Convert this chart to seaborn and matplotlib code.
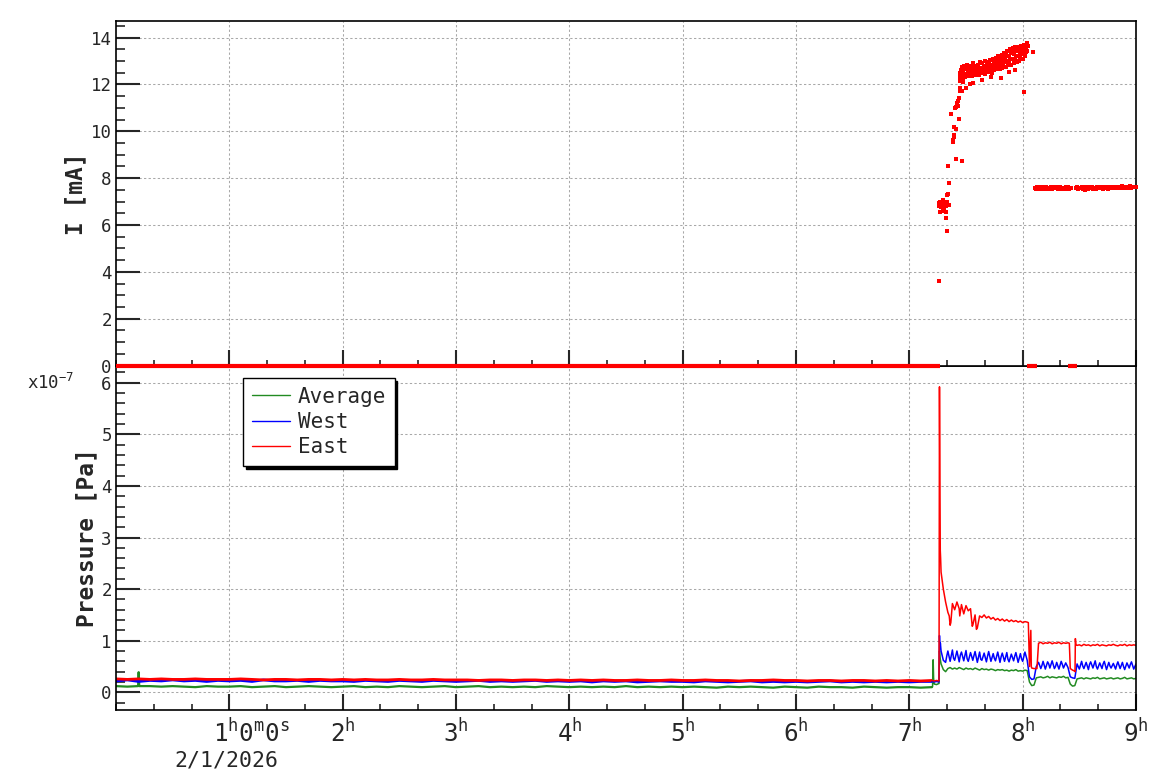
import numpy as np
import pandas as pd
import matplotlib
matplotlib.use("Agg")
import matplotlib.pyplot as plt
import seaborn as sns
from matplotlib.ticker import MultipleLocator, FixedLocator
from matplotlib.lines import Line2D

# ---------------- data ----------------
# Pressure [x1e-7 Pa], quiet period 0.0 h .. 7.2 h (regular sampling)
p_base_span = (0.0, 7.2)
east_base = [0.26, 0.25, 0.26, 0.25, 0.26, 0.25, 0.25, 0.26, 0.25, 0.25,
             0.25, 0.26, 0.25, 0.24, 0.25, 0.25, 0.24, 0.25, 0.25, 0.24,
             0.25, 0.24, 0.25, 0.24, 0.24, 0.25, 0.24, 0.24, 0.25, 0.24,
             0.24, 0.24, 0.23, 0.24, 0.24, 0.23, 0.24, 0.24, 0.23, 0.24,
             0.23, 0.24, 0.23, 0.24, 0.23, 0.23, 0.24, 0.23, 0.23, 0.24,
             0.23, 0.23, 0.24, 0.23, 0.23, 0.22, 0.23, 0.23, 0.24, 0.23,
             0.23, 0.22, 0.23, 0.23, 0.22, 0.23, 0.23, 0.22, 0.23, 0.22,
             0.23, 0.22, 0.23]
west_base = [0.22, 0.24, 0.21, 0.23, 0.22, 0.24, 0.22, 0.23, 0.21, 0.23,
             0.22, 0.23, 0.21, 0.24, 0.22, 0.22, 0.23, 0.21, 0.23, 0.22,
             0.22, 0.21, 0.23, 0.22, 0.21, 0.23, 0.22, 0.21, 0.23, 0.22,
             0.21, 0.22, 0.23, 0.21, 0.22, 0.21, 0.22, 0.23, 0.21, 0.22,
             0.21, 0.22, 0.20, 0.22, 0.21, 0.22, 0.20, 0.21, 0.22, 0.21,
             0.21, 0.20, 0.22, 0.21, 0.20, 0.21, 0.22, 0.20, 0.21, 0.20,
             0.21, 0.20, 0.21, 0.22, 0.20, 0.21, 0.20, 0.21, 0.20, 0.21,
             0.20, 0.21, 0.21]
avg_base = [0.12, 0.11, 0.39, 0.12, 0.11, 0.12, 0.11, 0.10, 0.12, 0.11,
            0.11, 0.12, 0.10, 0.11, 0.12, 0.10, 0.11, 0.12, 0.11, 0.10,
            0.11, 0.12, 0.10, 0.11, 0.10, 0.12, 0.11, 0.10, 0.11, 0.12,
            0.10, 0.11, 0.12, 0.10, 0.11, 0.10, 0.11, 0.10, 0.12, 0.11,
            0.10, 0.11, 0.10, 0.11, 0.10, 0.12, 0.10, 0.11, 0.10, 0.11,
            0.10, 0.11, 0.10, 0.09, 0.11, 0.10, 0.11, 0.10, 0.09, 0.11,
            0.10, 0.09, 0.11, 0.10, 0.10, 0.09, 0.11, 0.10, 0.09, 0.10,
            0.10, 0.09, 0.10]
avg_base_extra = [(0.195, 0.12), (0.205, 0.12)]

# Pressure, active period 7.20 h .. 9.00 h (regular sampling)
p_post_span = (7.20, 9.00)
east_post = [0.23, 0.22, 0.23, 0.22, 2.33, 2.00, 1.75, 1.55, 1.30, 1.72,
             1.60, 1.75, 1.62, 1.70, 1.52, 1.68, 1.58, 1.62, 1.30, 1.50,
             1.25, 1.48, 1.45, 1.50, 1.44, 1.47, 1.42, 1.45, 1.40, 1.43,
             1.39, 1.42, 1.38, 1.41, 1.37, 1.40, 1.37, 1.39, 1.36, 1.38,
             1.35, 1.37, 1.36, 0.50, 0.47, 0.46, 0.46, 0.95, 0.97, 0.94,
             0.96, 0.95, 0.97, 0.94, 0.96, 0.95, 0.97, 0.94, 0.96, 0.95,
             0.96, 0.46, 0.43, 0.41, 0.91, 0.92, 0.90, 0.93, 0.91, 0.92,
             0.90, 0.92, 0.91, 0.93, 0.90, 0.92, 0.91, 0.90, 0.92, 0.91,
             0.93, 0.91, 0.90, 0.92, 0.91, 0.93, 0.90, 0.92, 0.91, 0.92,
             0.91]
east_post_extra = [(7.262, 0.23), (7.266, 5.92), (7.270, 3.82), (7.273, 2.75),
                   (7.276, 2.60), (7.352, 1.48), (7.366, 1.35), (7.445, 1.48),
                   (7.555, 1.28), (7.592, 1.22), (8.050, 1.35), (8.072, 1.20),
                   (8.076, 0.50), (8.126, 0.46), (8.412, 0.95), (8.462, 0.40),
                   (8.465, 1.04), (8.470, 0.92)]
west_post = [0.21, 0.20, 0.21, 0.20, 0.80, 0.62, 0.58, 0.80, 0.60, 0.82,
             0.62, 0.80, 0.59, 0.78, 0.61, 0.81, 0.60, 0.77, 0.62, 0.79,
             0.58, 0.78, 0.62, 0.76, 0.59, 0.79, 0.60, 0.75, 0.61, 0.78,
             0.58, 0.76, 0.60, 0.77, 0.59, 0.74, 0.61, 0.77, 0.58, 0.75,
             0.60, 0.78, 0.62, 0.30, 0.25, 0.26, 0.50, 0.58, 0.46, 0.60,
             0.45, 0.59, 0.47, 0.61, 0.46, 0.58, 0.45, 0.60, 0.47, 0.57,
             0.48, 0.30, 0.28, 0.27, 0.55, 0.45, 0.60, 0.46, 0.58, 0.44,
             0.59, 0.47, 0.61, 0.45, 0.57, 0.46, 0.60, 0.44, 0.58, 0.47,
             0.56, 0.45, 0.59, 0.46, 0.58, 0.44, 0.57, 0.47, 0.59, 0.45,
             0.55]
west_post_extra = [(7.262, 0.21), (7.266, 1.10), (7.270, 0.85), (7.274, 0.95),
                   (7.33, 0.70), (7.39, 0.66), (7.45, 0.72), (7.51, 0.65),
                   (7.57, 0.71), (7.63, 0.64), (7.69, 0.70), (7.75, 0.66),
                   (7.81, 0.69), (7.87, 0.64), (7.93, 0.70), (7.99, 0.65),
                   (8.17, 0.52), (8.23, 0.55), (8.29, 0.50), (8.35, 0.54),
                   (8.53, 0.51), (8.59, 0.54), (8.65, 0.50), (8.71, 0.55),
                   (8.77, 0.51), (8.83, 0.53), (8.89, 0.50), (8.95, 0.54)]
avg_post = [0.11, 0.16, 0.15, 0.17, 0.55, 0.44, 0.40, 0.46, 0.48, 0.45,
            0.47, 0.45, 0.48, 0.46, 0.44, 0.47, 0.45, 0.46, 0.44, 0.47,
            0.45, 0.43, 0.46, 0.44, 0.45, 0.43, 0.45, 0.44, 0.42, 0.44,
            0.43, 0.44, 0.42, 0.43, 0.41, 0.43, 0.42, 0.44, 0.41, 0.42,
            0.41, 0.43, 0.42, 0.20, 0.13, 0.14, 0.28, 0.29, 0.30, 0.28,
            0.29, 0.31, 0.28, 0.30, 0.29, 0.28, 0.30, 0.29, 0.31, 0.28,
            0.29, 0.16, 0.12, 0.13, 0.26, 0.27, 0.28, 0.26, 0.28, 0.27,
            0.26, 0.28, 0.27, 0.29, 0.26, 0.27, 0.28, 0.26, 0.27, 0.28,
            0.26, 0.27, 0.28, 0.26, 0.27, 0.29, 0.26, 0.27, 0.28, 0.26,
            0.27]
avg_post_extra = [(7.205, 0.11), (7.210, 0.63), (7.214, 0.28), (7.218, 0.17),
                  (7.262, 0.17), (7.266, 0.80), (7.270, 0.68)]

# Beam current I [mA]
i_zero_start = [0.0, 8.04, 8.40]
i_zero_end = [7.268, 8.13, 8.48]
i_rise = [(7.266, 3.59), (7.262, 6.95), (7.266, 6.80), (7.270, 6.55), (7.272, 7.00),
          (7.278, 6.75), (7.284, 6.95), (7.290, 6.80), (7.296, 7.05), (7.300, 6.60),
          (7.305, 6.85), (7.310, 6.70), (7.316, 6.95), (7.322, 6.80), (7.325, 6.55),
          (7.330, 7.00), (7.335, 7.30), (7.327, 6.29), (7.335, 5.73), (7.345, 7.32),
          (7.350, 6.85), (7.352, 7.78), (7.345, 8.52), (7.372, 10.73), (7.384, 9.56),
          (7.390, 9.77), (7.386, 9.63), (7.392, 10.17), (7.398, 9.85), (7.416, 10.08),
          (7.434, 10.52), (7.413, 8.81), (7.463, 8.72), (7.402, 11.00), (7.413, 11.05),
          (7.428, 11.10), (7.420, 11.20), (7.428, 11.30), (7.437, 11.42), (7.449, 11.70),
          (7.466, 11.72), (7.443, 11.84), (7.500, 11.84), (7.531, 12.00), (7.443, 12.48),
          (7.457, 12.27), (7.472, 12.12), (7.449, 12.34), (7.463, 12.40), (8.010, 11.67),
          (8.090, 13.37), (7.807, 12.27), (7.560, 12.05), (7.640, 12.20), (7.720, 12.30),
          (7.880, 12.55), (7.930, 12.60)]
i_band_span = (7.45, 8.045)
i_band = [12.15, 12.60, 12.35, 12.75, 12.25, 12.55, 12.80, 12.40, 12.65, 12.30,
          12.70, 12.45, 12.85, 12.35, 12.60, 12.50, 12.80, 12.40, 12.70, 12.55,
          12.35, 12.75, 12.50, 12.90, 12.45, 12.65, 12.40, 12.80, 12.55, 12.70,
          12.45, 12.85, 12.60, 12.40, 12.95, 12.55, 12.70, 12.50, 12.90, 12.65,
          12.50, 12.80, 12.60, 13.00, 12.45, 12.75, 12.55, 12.95, 12.65, 12.85,
          12.55, 12.90, 12.70, 13.05, 12.60, 12.85, 12.50, 13.10, 12.75, 12.95,
          12.60, 13.00, 12.80, 13.15, 12.65, 12.90, 12.70, 13.20, 12.85, 13.05,
          12.65, 13.10, 12.90, 13.25, 12.70, 13.00, 12.80, 13.35, 12.95, 13.15,
          12.75, 13.30, 13.00, 13.45, 12.85, 13.20, 12.95, 13.50, 13.10, 13.35,
          12.85, 13.40, 13.10, 13.55, 12.90, 13.30, 13.05, 13.60, 13.20, 13.45,
          12.95, 13.50, 13.20, 13.60, 13.00, 13.40, 13.15, 13.65, 13.30, 13.50,
          13.10, 13.55, 13.35, 13.70, 13.20, 13.60, 13.40, 13.75, 13.45, 13.65]
i_plat1_span = (8.11, 8.43)
i_plat1 = [7.60, 7.55, 7.63, 7.58, 7.52, 7.61, 7.57, 7.64, 7.55, 7.59, 7.62,
           7.54, 7.60, 7.57, 7.63, 7.53, 7.58, 7.61, 7.56, 7.62, 7.55, 7.59,
           7.64, 7.54, 7.60, 7.57, 7.52, 7.61, 7.58, 7.63, 7.55, 7.59, 7.60]
i_plat2_span = (8.47, 9.00)
i_plat2 = [7.58, 7.62, 7.53, 7.60, 7.56, 7.64, 7.55, 7.59, 7.51, 7.62, 7.57,
           7.54, 7.61, 7.58, 7.63, 7.55, 7.60, 7.57, 7.52, 7.61, 7.59, 7.64,
           7.56, 7.60, 7.54, 7.62, 7.58, 7.63, 7.55, 7.60, 7.57, 7.61, 7.59,
           7.64, 7.56, 7.62, 7.58, 7.60, 7.63, 7.57, 7.61, 7.65, 7.58, 7.62,
           7.60, 7.64, 7.59, 7.62, 7.66, 7.60, 7.63, 7.61, 7.64, 7.62]

x_major = [1, 2, 3, 4, 5, 6, 7, 8, 9]
x_labels = ["", "$2^{h}$", "$3^{h}$", "$4^{h}$", "$5^{h}$", "$6^{h}$", "$7^{h}$", "$8^{h}$", "$9^{h}$"]
legend_labels = ["Average", "West", "East"]

C_AVG, C_WEST, C_EAST = "#228b22", "#0000ff", "#ff0000"


def sampled(span, vals, extra=()):
    t = np.linspace(span[0], span[1], len(vals))
    df = pd.DataFrame({"t": t, "v": vals})
    if extra:
        df = pd.concat([df, pd.DataFrame(list(extra), columns=["t", "v"])], ignore_index=True)
    return df.sort_values("t").reset_index(drop=True)


# ---------------- style ----------------
sns.set_style("ticks")
plt.rcParams["font.family"] = ["DejaVu Sans Mono", "DejaVu Sans"]
plt.rcParams["mathtext.default"] = "regular"

W, H = 1158, 782
fig = plt.figure(figsize=(W / 100, H / 100), dpi=100)
ax1 = fig.add_axes([116 / W, 1 - 366 / H, 1020 / W, 345 / H])
ax2 = fig.add_axes([116 / W, 1 - 710 / H, 1020 / W, 344 / H])
ax1.set_zorder(3)

# ---------------- bottom: pressure ----------------
for vals, extra, col in [(avg_base, avg_base_extra, C_AVG), (west_base, (), C_WEST), (east_base, (), C_EAST)]:
    d = sampled(p_base_span, vals, extra)
    sns.lineplot(data=d, x="t", y="v", ax=ax2, color=col, lw=2.0 if col != C_AVG else 1.6,
                 estimator=None, sort=False, legend=False)
for vals, extra, col in [(avg_post, avg_post_extra, C_AVG), (west_post, west_post_extra, C_WEST),
                         (east_post, east_post_extra, C_EAST)]:
    d = sampled(p_post_span, vals, extra)
    sns.lineplot(data=d, x="t", y="v", ax=ax2, color=col, lw=1.1,
                 estimator=None, sort=False, legend=False)

# ---------------- top: current ----------------
ax1.hlines([0] * len(i_zero_start), i_zero_start, i_zero_end, colors=C_EAST, lw=3.0,
           zorder=4, clip_on=False)
pts = pd.concat([
    pd.DataFrame(i_rise, columns=["t", "v"]),
    sampled(i_band_span, i_band),
    sampled(i_plat1_span, i_plat1),
    sampled(i_plat2_span, i_plat2),
], ignore_index=True)
sns.scatterplot(data=pts, x="t", y="v", ax=ax1, color=C_EAST, marker="s", s=7,
                linewidth=0, legend=False, zorder=4, clip_on=False)

# ---------------- axes formatting ----------------
for ax in (ax1, ax2):
    ax.set_xlim(0, 9)
    ax.xaxis.set_major_locator(FixedLocator(x_major))
    ax.xaxis.set_minor_locator(MultipleLocator(1 / 3))
    ax.tick_params(axis="x", which="major", direction="in", length=11.5, width=1.5,
                   bottom=True, top=False)
    ax.tick_params(axis="x", which="minor", direction="in", length=4.3, width=1.2,
                   bottom=True, top=False)
    ax.tick_params(axis="y", which="major", direction="in", length=17.3, width=1.5,
                   left=True, right=False, labelsize=12.5, pad=3)
    ax.tick_params(axis="y", which="minor", direction="in", length=6.5, width=1.2,
                   left=True, right=False)
    ax.grid(True, which="major", color="#a8a8a8", linestyle=(0, (2.2, 2.2)), lw=0.75)
    ax.set_axisbelow(True)
    for s in ax.spines.values():
        s.set_visible(True)
        s.set_linewidth(1.2)
        s.set_color("black")
    ax.set_xlabel("")
    ax.set_ylabel("")

ax1.set_ylim(-0.02, 14.71)
ax1.yaxis.set_major_locator(MultipleLocator(2))
ax1.yaxis.set_minor_locator(MultipleLocator(0.5))
ax1.tick_params(axis="x", labelbottom=False)

ax2.set_ylim(-0.343, 6.324)
ax2.yaxis.set_major_locator(MultipleLocator(1))
ax2.yaxis.set_minor_locator(MultipleLocator(0.2))
ax2.set_xticklabels(x_labels, fontsize=17.5)
ax2.tick_params(axis="x", which="major", pad=6)

# axis labels / annotations
fig.text(76 / W, 1 - 194 / H, "I [mA]", rotation=90, ha="center", va="center",
         fontsize=16.5, fontweight="bold")
fig.text(87 / W, 1 - 538 / H, "Pressure [Pa]", rotation=90, ha="center", va="center",
         fontsize=16.5, fontweight="bold")
fig.text(27 / W, 1 - 389 / H, "x10$^{-7}$", ha="left", va="baseline", fontsize=12.5)
fig.text(213 / W, 1 - 742 / H, "$1^{h}0^{m}0^{s}$", ha="left", va="baseline", fontsize=17.5)
fig.text(226 / W, 1 - 767 / H, "2/1/2026", ha="center", va="baseline", fontsize=15.5)

handles = [Line2D([], [], color=c, lw=1.0) for c in (C_AVG, C_WEST, C_EAST)]
leg = ax2.legend(handles, legend_labels, loc="upper left", bbox_to_anchor=(0.1245, 0.965),
                 borderaxespad=0, fontsize=15, frameon=True, fancybox=False,
                 edgecolor="black", framealpha=1, shadow={"color": "black", "alpha": 1},
                 handlelength=1.85, handletextpad=0.35, labelspacing=0.25, borderpad=0.42)
leg.get_frame().set_linewidth(1.0)

fig.savefig("out.png", dpi=100)
